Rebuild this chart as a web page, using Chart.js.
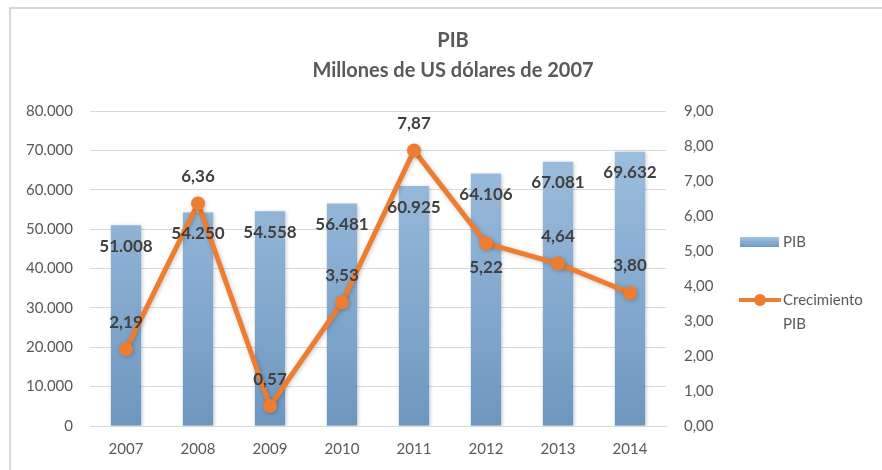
<!DOCTYPE html>
<html>
<head>
<meta charset="utf-8">
<script src="https://cdn.jsdelivr.net/npm/chart.js@4/dist/chart.umd.min.js"></script>
<style>
  html, body { margin: 0; padding: 0; background: #fff; }
  #frame {
    position: absolute; left: 9px; top: 7px; right: -4px; bottom: -4px;
    border-left: 2px solid #d9d9d9; border-top: 2px solid #d9d9d9;
  }
  #pib { position: absolute; left: 0; top: 0; }
</style>
</head>
<body>
<div id="frame"></div>
<canvas id="pib" width="882" height="470"></canvas>
<script>
(function () {
  'use strict';

  const years = ['2007', '2008', '2009', '2010', '2011', '2012', '2013', '2014'];
  const pib = [51008, 54250, 54558, 56481, 60925, 64106, 67081, 69632];
  const crecimiento = [2.19, 6.36, 0.57, 3.53, 7.87, 5.22, 4.64, 3.80];
  // label goes under the point for these years
  const labelBelow = [false, false, false, false, false, true, false, false];

  const FONT = 'Lato, "Open Sans", sans-serif';
  const GREY = '#595959';
  const ORANGE = '#ED7D31';

  function fmtMiles(v) {
    return Math.round(v).toString().replace(/\B(?=(\d{3})+(?!\d))/g, '.');
  }

  function fmtDec(v) {
    return v.toFixed(2).replace('.', ',');
  }

  function barGradient(ctx, top, bottom) {
    const g = ctx.createLinearGradient(0, top, 0, bottom);
    g.addColorStop(0, '#a3c3e1');
    g.addColorStop(1, '#6e97c0');
    return g;
  }

  // Shadows + value labels + legend
  const labelsPlugin = {
    id: 'valueLabels',
    beforeDatasetDraw(chart) {
      const ctx = chart.ctx;
      ctx.save();
      ctx.shadowColor = 'rgba(0,0,0,0.22)';
      ctx.shadowBlur = 4;
      ctx.shadowOffsetX = 1;
      ctx.shadowOffsetY = 1;
    },
    afterDatasetDraw(chart) {
      chart.ctx.restore();
    },
    afterDatasetsDraw(chart) {
      const ctx = chart.ctx;
      ctx.save();
      ctx.font = 'bold 17px ' + FONT;
      ctx.fillStyle = '#404040';
      ctx.textAlign = 'center';
      ctx.textBaseline = 'middle';

      chart.getDatasetMeta(1).data.forEach((bar, i) => {
        ctx.fillText(fmtMiles(pib[i]), bar.x, bar.y + 21);
      });
      chart.getDatasetMeta(0).data.forEach((pt, i) => {
        const dy = labelBelow[i] ? 24 : -27;
        ctx.fillText(fmtDec(crecimiento[i]), pt.x, pt.y + dy);
      });
      ctx.restore();
    },
    afterDraw(chart) {
      const ctx = chart.ctx;
      const area = chart.chartArea;
      const x = area.right + 74;
      const y1 = area.top + 131;
      const y2 = area.top + 189;
      ctx.save();
      ctx.fillStyle = barGradient(ctx, y1 - 5, y1 + 5);
      ctx.fillRect(x, y1 - 5, 39, 10);

      ctx.strokeStyle = ORANGE;
      ctx.lineWidth = 4;
      ctx.beginPath();
      ctx.moveTo(x - 1, y2);
      ctx.lineTo(x + 41, y2);
      ctx.stroke();
      ctx.fillStyle = ORANGE;
      ctx.beginPath();
      ctx.arc(x + 20, y2, 6, 0, Math.PI * 2);
      ctx.fill();

      ctx.font = '15px ' + FONT;
      ctx.fillStyle = GREY;
      ctx.textAlign = 'left';
      ctx.textBaseline = 'middle';
      ctx.fillText('PIB', x + 43, y1);
      ctx.fillText('Crecimiento', x + 43, y2);
      ctx.fillText('PIB', x + 43, y2 + 24);
      ctx.restore();
    }
  };

  const canvas = document.getElementById('pib');

  window.pibChart = new Chart(canvas.getContext('2d'), {
    data: {
      labels: years,
      datasets: [
        {
          type: 'line',
          label: 'Crecimiento PIB',
          data: crecimiento,
          yAxisID: 'y1',
          borderColor: ORANGE,
          backgroundColor: ORANGE,
          borderWidth: 5,
          pointRadius: 7,
          pointHoverRadius: 7,
          pointBorderWidth: 0,
          tension: 0,
          order: 0
        },
        {
          type: 'bar',
          label: 'PIB',
          data: pib,
          yAxisID: 'y',
          backgroundColor: (c) => {
            const area = c.chart.chartArea;
            if (!area) return '#8bb0d4';
            return barGradient(c.chart.ctx, area.top, area.bottom);
          },
          borderWidth: 0,
          barPercentage: 0.42,
          categoryPercentage: 1,
          order: 1
        }
      ]
    },
    options: {
      responsive: false,
      animation: false,
      layout: { padding: { left: 24, right: 0, top: 0, bottom: 2 } },
      plugins: {
        legend: { display: false },
        tooltip: { enabled: false },
        title: {
          display: true,
          text: ['PIB', 'Millones de US dólares de 2007'],
          color: GREY,
          font: { family: FONT, size: 20, weight: 'bold', lineHeight: 1.5 },
          padding: { top: 26, bottom: 25 }
        }
      },
      scales: {
        x: {
          afterFit: (s) => { s.height = 42; },
          grid: { display: false, drawTicks: false },
          border: { display: true, color: '#d9d9d9', width: 1 },
          ticks: { color: GREY, font: { family: FONT, size: 15 }, padding: 14 }
        },
        y: {
          position: 'left',
          min: 0,
          max: 80000,
          afterFit: (s) => { s.width = 66; },
          grid: { color: '#d9d9d9', drawTicks: false },
          border: { display: false },
          ticks: {
            stepSize: 10000,
            color: GREY,
            font: { family: FONT, size: 15 },
            padding: 17,
            callback: (v) => fmtMiles(v)
          }
        },
        y1: {
          position: 'right',
          min: 0,
          max: 9,
          afterFit: (s) => { s.width = 216; },
          grid: { drawOnChartArea: false, drawTicks: false },
          border: { display: false },
          ticks: {
            stepSize: 1,
            color: GREY,
            font: { family: FONT, size: 15 },
            padding: 18,
            callback: (v) => fmtDec(v)
          }
        }
      }
    },
    plugins: [labelsPlugin]
  });
})();
</script>
</body>
</html>
